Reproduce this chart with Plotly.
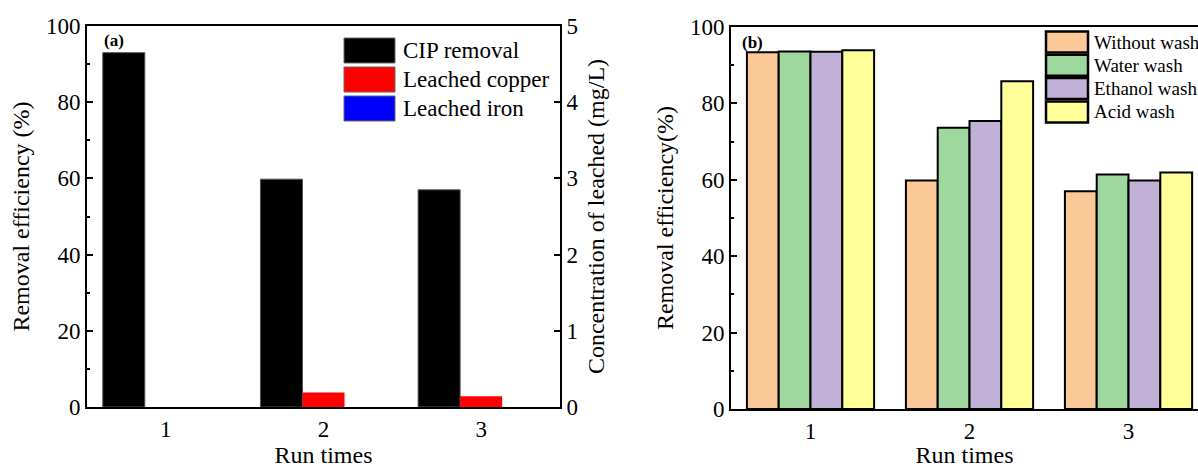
import plotly.graph_objects as go

# ---------------- data ----------------
runs = [1, 2, 3]
run_labels = ["1", "2", "3"]

# panel (a)
series_a = ["CIP removal", "Leached copper", "Leached iron"]
colors_a = ["#000000", "#FF0000", "#0000FF"]
cip_removal = [93.0, 59.8, 57.0]          # %
leached_copper = [0.0, 0.19, 0.14]        # mg/L
leached_iron = [0.0, 0.0, 0.0]            # mg/L

# panel (b)
wash_names = ["Without wash", "Water wash", "Ethanol wash", "Acid wash"]
without_wash = [93.4, 59.8, 57.0]
water_wash = [93.6, 73.6, 61.4]
ethanol_wash = [93.5, 75.4, 59.8]
acid_wash = [93.9, 85.8, 61.9]
wash_values = [without_wash, water_wash, ethanol_wash, acid_wash]
wash_colors = ["#FBC897", "#9ED89E", "#C2B1D6", "#FFFF99"]

W, H = 1198, 468
FONT = "Liberation Serif"

def px(x):
    return x / W

def py(y):
    return 1 - y / H

fig = go.Figure()

# ---- panel (a) ----
fig.add_trace(go.Bar(x=runs, y=cip_removal, name=series_a[0], marker_color=colors_a[0],
                     marker_line=dict(color="#555555", width=1), offsetgroup="a1",
                     xaxis="x", yaxis="y", showlegend=False))
fig.add_trace(go.Bar(x=runs, y=leached_copper, name=series_a[1], marker_color=colors_a[1],
                     marker_line=dict(width=0), offsetgroup="a2",
                     xaxis="x", yaxis="y2", showlegend=False))
fig.add_trace(go.Bar(x=runs, y=leached_iron, name=series_a[2], marker_color=colors_a[2],
                     marker_line=dict(width=0), offsetgroup="a3",
                     xaxis="x", yaxis="y2", showlegend=False))

# ---- panel (b) ----
for i, (nm, vals, col) in enumerate(zip(wash_names, wash_values, wash_colors)):
    fig.add_trace(go.Bar(x=runs, y=vals, name=nm, marker_color=col,
                         marker_line=dict(color="black", width=2), offsetgroup="b%d" % i,
                         xaxis="x2", yaxis="y3", showlegend=False))

axis_common = dict(showline=True, linecolor="black", linewidth=2, showgrid=False,
                   zeroline=False, automargin=False,
                   tickfont=dict(family=FONT, size=23, color="black"),
                   title_font=dict(family=FONT, size=24, color="black"))

# ---- legend keys (drawn as swatches + text labels) ----
shapes = []
annotations = []
for i, (nm, col) in enumerate(zip(series_a, colors_a)):
    yc = 50.5 + 29 * i
    shapes.append(dict(type="rect", xref="paper", yref="paper",
                       x0=px(344), x1=px(395), y0=py(yc - 12.5), y1=py(yc + 12.5),
                       fillcolor=col, line=dict(color="#666666", width=1)))
    annotations.append(dict(text=nm, x=px(401), y=py(yc), xref="paper", yref="paper",
                            xanchor="left", yanchor="middle", showarrow=False,
                            font=dict(family=FONT, size=23, color="black")))
for i, (nm, col) in enumerate(zip(wash_names, wash_colors)):
    yc = 42 + 23.3 * i
    shapes.append(dict(type="rect", xref="paper", yref="paper",
                       x0=px(1046), x1=px(1088), y0=py(yc - 10.5), y1=py(yc + 10.5),
                       fillcolor=col, line=dict(color="black", width=2.5)))
    annotations.append(dict(text=nm, x=px(1092), y=py(yc), xref="paper", yref="paper",
                            xanchor="left", yanchor="middle", showarrow=False,
                            font=dict(family=FONT, size=19, color="black")))

annotations += [
    dict(text="<b>(a)</b>", x=px(102), y=py(40), xref="paper", yref="paper",
         xanchor="left", yanchor="middle", showarrow=False,
         font=dict(family=FONT, size=17, color="black")),
    dict(text="<b>(b)</b>", x=px(740), y=py(42), xref="paper", yref="paper",
         xanchor="left", yanchor="middle", showarrow=False,
         font=dict(family=FONT, size=17, color="black")),
]

fig.update_layout(
    width=W, height=H,
    margin=dict(l=0, r=0, t=0, b=0, autoexpand=False),
    paper_bgcolor="white", plot_bgcolor="white",
    barmode="group", bargap=0.2, bargroupgap=0,
    font=dict(family=FONT, color="black"),
    showlegend=False,
    xaxis=dict(domain=[px(87), px(560)], range=[0.5, 3.5], tickvals=runs, ticktext=run_labels,
               ticks="", mirror=True, anchor="y",
               title=dict(text="Run times", standoff=2), **axis_common),
    yaxis=dict(domain=[py(407), py(26)], range=[0, 100], dtick=20, ticks="inside",
               ticklen=6, tickwidth=2, tickcolor="black", anchor="x",
               minor=dict(dtick=10, ticks="inside", ticklen=3, tickwidth=2, tickcolor="black"),
               title=dict(text="Removal efficiency (%)", standoff=10), **axis_common),
    yaxis2=dict(domain=[py(407), py(26)], range=[0, 5], dtick=1, ticks="inside",
                ticklen=6, tickwidth=2, tickcolor="black", anchor="x", overlaying="y",
                side="right",
                title=dict(text="Concentration of leached (mg/L)", standoff=10), **axis_common),
    xaxis2=dict(domain=[px(731), 1], range=[0.5, 3.437], tickvals=runs, ticktext=run_labels,
                ticks="", mirror=True, anchor="y3",
                title=dict(text="Run times", standoff=2), **axis_common),
    yaxis3=dict(domain=[py(409), py(27)], range=[0, 100], dtick=20, ticks="inside",
                ticklen=6, tickwidth=2, tickcolor="black", anchor="x2",
                minor=dict(dtick=10, ticks="inside", ticklen=3, tickwidth=2, tickcolor="black"),
                title=dict(text="Removal efficiency(%)", standoff=10), **axis_common),
    shapes=shapes,
    annotations=annotations,
)

fig.write_html("out.html")
